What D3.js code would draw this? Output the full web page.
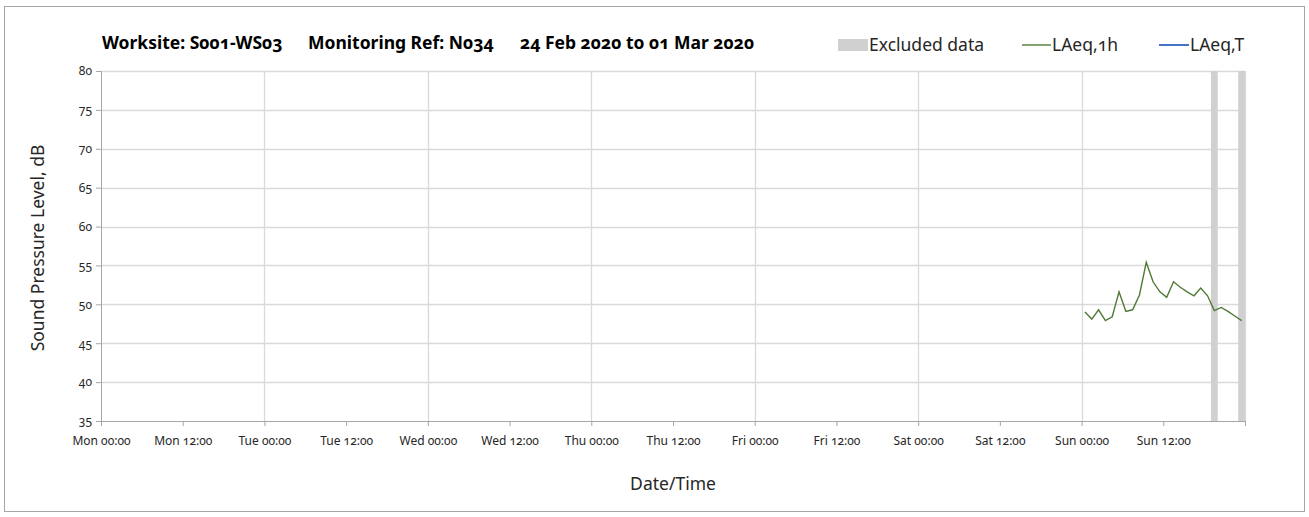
<!DOCTYPE html>
<html>
<head>
<meta charset="utf-8">
<script src="https://cdn.jsdelivr.net/npm/d3@7"></script>
<style>
  body { margin: 0; background: #fff; }
  svg text { font-family: "Noto Sans", "Open Sans", sans-serif; font-variant-numeric: oldstyle-nums; fill: #262626; }
</style>
</head>
<body>
<div id="chart"></div>
<script>
// hourly LAeq on Sunday (time at middle of each hour)
var hourTimes = ["2020-03-01T00:30Z","2020-03-01T01:30Z","2020-03-01T02:30Z","2020-03-01T03:30Z",
  "2020-03-01T04:30Z","2020-03-01T05:30Z","2020-03-01T06:30Z","2020-03-01T07:30Z",
  "2020-03-01T08:30Z","2020-03-01T09:30Z","2020-03-01T10:30Z","2020-03-01T11:30Z",
  "2020-03-01T12:30Z","2020-03-01T13:30Z","2020-03-01T14:30Z","2020-03-01T15:30Z",
  "2020-03-01T16:30Z","2020-03-01T17:30Z","2020-03-01T18:30Z","2020-03-01T19:30Z",
  "2020-03-01T20:30Z","2020-03-01T21:30Z","2020-03-01T22:30Z","2020-03-01T23:30Z"];
var laeq1h = [49.0, 48.1, 49.3, 47.9, 48.4, 51.6, 49.1, 49.3, 51.2, 55.4, 52.9, 51.6,
  50.9, 52.9, 52.2, 51.6, 51.1, 52.1, 51.1, 49.2, 49.6, 49.1, 48.5, 47.9];

// excluded periods
var excludedStart = ["2020-03-01T19:00Z", "2020-03-01T23:00Z"];
var excludedEnd = ["2020-03-01T20:00Z", "2020-03-02T00:00Z"];

var yTicks = [35, 40, 45, 50, 55, 60, 65, 70, 75, 80];
var xStart = "2020-02-24T00:00Z", xEnd = "2020-03-02T00:00Z";

var titleParts = ["Worksite: S001-WS03", "Monitoring Ref: N034", "24 Feb 2020 to 01 Mar 2020"];
var legendNames = ["Excluded data", "LAeq,1h", "LAeq,T"];

var W = 1309, H = 517;
var margin = {top: 71, right: 64, bottom: 96, left: 101};
var iw = W - margin.left - margin.right, ih = H - margin.top - margin.bottom;

var svg = d3.select("#chart").append("svg").attr("width", W).attr("height", H);

// outer frame
svg.append("rect").attr("x", 4.5).attr("y", 6.5).attr("width", 1300).attr("height", 505)
  .attr("fill", "#fff").attr("stroke", "#a6a6a6").attr("stroke-width", 1);

var g = svg.append("g").attr("transform", "translate(" + margin.left + "," + margin.top + ")");

var x = d3.scaleUtc().domain([new Date(xStart), new Date(xEnd)]).range([0, iw]);
var y = d3.scaleLinear().domain([35, 80]).range([ih, 0]);

var dayTicks = d3.utcDay.range(new Date(xStart), new Date(xEnd));
var halfDayTicks = d3.utcHour.every(12).range(new Date(xStart), new Date(xEnd));

// gridlines
g.selectAll(".hgrid").data(yTicks.slice(1)).enter().append("line")
  .attr("x1", 0).attr("x2", iw)
  .attr("y1", function(d) { return Math.round(y(d)) + 0.5; })
  .attr("y2", function(d) { return Math.round(y(d)) + 0.5; })
  .attr("stroke", "#d9d9d9").attr("stroke-width", 1.3);
g.selectAll(".vgrid").data(dayTicks.slice(1).concat([new Date(xEnd)])).enter().append("line")
  .attr("x1", function(d) { return Math.round(x(d)) + 0.5; })
  .attr("x2", function(d) { return Math.round(x(d)) + 0.5; })
  .attr("y1", 0).attr("y2", ih)
  .attr("stroke", "#d9d9d9").attr("stroke-width", 1.3);

// excluded data bars
g.selectAll(".excl").data(excludedStart).enter().append("rect")
  .attr("x", function(d) { return x(new Date(d)); })
  .attr("width", function(d, i) { return x(new Date(excludedEnd[i])) - x(new Date(d)); })
  .attr("y", 0).attr("height", ih)
  .attr("fill", "#d0d0d0");

// axes
var fmt = d3.utcFormat("%a %H:%M");
var xAxis = g.append("g").attr("transform", "translate(0," + ih + ")")
  .call(d3.axisBottom(x).tickValues(halfDayTicks.concat([new Date(xEnd)])).tickSize(5).tickFormat(function(d) {
    return +d === +new Date(xEnd) ? "" : fmt(d);
  }));
xAxis.select(".domain").attr("stroke", "#a6a6a6");
xAxis.selectAll(".tick line").attr("stroke", "#a6a6a6");
xAxis.selectAll("text").attr("dy", "1.3em").style("font-size", "12px");

var yAxis = g.append("g")
  .call(d3.axisLeft(y).tickValues(yTicks).tickSize(5).tickFormat(d3.format("d")));
yAxis.select(".domain").attr("stroke", "#a6a6a6");
yAxis.selectAll(".tick line").attr("stroke", "#a6a6a6");
yAxis.selectAll("text").attr("x", -9).style("font-size", "12px");

// LAeq,1h line
var pts = hourTimes.map(function(t, i) { return {t: new Date(t), v: laeq1h[i]}; });
g.append("path").datum(pts)
  .attr("fill", "none").attr("stroke", "#4e7a35").attr("stroke-width", 1.4)
  .attr("d", d3.line().x(function(d) { return x(d.t); }).y(function(d) { return y(d.v); }));

// axis titles
svg.append("text").attr("transform", "translate(44," + (margin.top + ih / 2 + 2) + ") rotate(-90)")
  .attr("text-anchor", "middle").style("font-size", "17.5px").text("Sound Pressure Level, dB");
svg.append("text").attr("x", margin.left + iw / 2).attr("y", 490)
  .attr("text-anchor", "middle").style("font-size", "17.5px").text("Date/Time");

// title, three parts like the source
var titleX = [102, 308, 520];
svg.selectAll(".title").data(titleParts).enter().append("text")
  .attr("x", function(d, i) { return titleX[i]; }).attr("y", 49)
  .style("font-size", "17.5px").style("font-weight", "bold").style("fill", "#000")
  .text(function(d) { return d; });

// legend
var leg = svg.append("g");
leg.append("rect").attr("x", 838).attr("y", 39).attr("width", 30).attr("height", 12).attr("fill", "#d0d0d0");
leg.append("text").attr("x", 869).attr("y", 51).style("font-size", "17.5px").text(legendNames[0]);
leg.append("line").attr("x1", 1022).attr("x2", 1051).attr("y1", 45).attr("y2", 45)
  .attr("stroke", "#4e7a35").attr("stroke-width", 1.4);
leg.append("text").attr("x", 1052).attr("y", 51).style("font-size", "17.5px").text(legendNames[1]);
leg.append("line").attr("x1", 1159).attr("x2", 1189).attr("y1", 45).attr("y2", 45)
  .attr("stroke", "#4472c4").attr("stroke-width", 2);
leg.append("text").attr("x", 1190).attr("y", 51).style("font-size", "17.5px").text(legendNames[2]);
</script>
</body>
</html>
